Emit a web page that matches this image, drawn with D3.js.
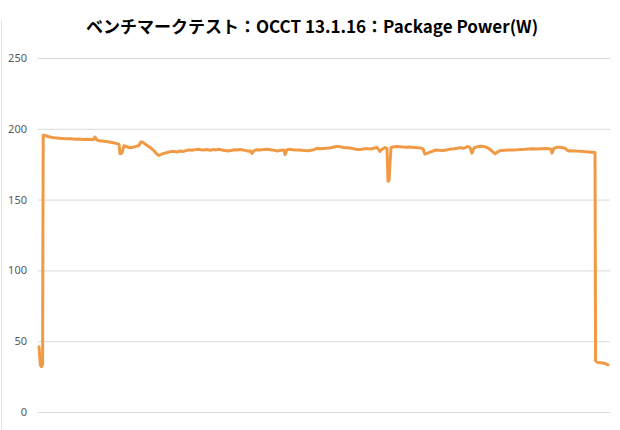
<!DOCTYPE html>
<html lang="ja">
<head>
<meta charset="UTF-8">
<title>OCCT Package Power</title>
<script src="https://d3js.org/d3.v7.min.js"></script>
<style>
  body { margin: 0; background: #fff; }
  svg { display: block; }
  .title { font-family: "Noto Sans CJK JP", sans-serif; font-weight: bold; font-size: 17px; fill: #000; }
  .tick text { font-family: "Noto Sans", sans-serif; font-size: 11px; fill: #595959; }
</style>
</head>
<body>
<svg width="620" height="430"></svg>
<script>
  // 経過時間(任意単位)と Package Power(W)
  const times = [
    1, 1.6, 2.4, 3.4, 4.6, 5.2, 7, 10, 13, 17, 21, 25, 29, 33, 37, 41, 45, 49, 53, 55, 57, 59,
    62, 66, 70, 74, 78, 81, 82, 84, 86, 89, 92, 95, 98, 101, 103, 105, 107, 110, 113, 116, 119, 121,
    124, 127, 130, 133, 136, 139, 142, 145, 148, 151, 154, 157, 160, 163, 166, 169, 172, 175, 178,
    181, 184, 187, 190, 193, 196, 199, 202, 205, 208, 210, 212, 214, 216, 219, 222, 225, 228, 231,
    234, 237, 240, 243, 246, 247, 249, 252, 255, 258, 261, 264, 267, 270, 273, 276, 279, 282, 285,
    288, 291, 294, 297, 300, 303, 306, 309, 312, 315, 318, 321, 324, 327, 330, 333, 336, 339, 341,
    342, 344, 347, 349, 350, 351, 352, 353, 356, 359, 362, 365, 368, 371, 374, 377, 380, 383, 385,
    387, 389, 392, 395, 398, 401, 404, 407, 410, 413, 416, 419, 422, 425, 428, 430, 432, 434, 436,
    439, 442, 445, 448, 451, 454, 457, 460, 463, 467, 471, 475, 479, 483, 487, 491, 495, 499, 503,
    507, 511, 513, 514, 516, 519, 522, 525, 527, 529, 531, 534, 538, 542, 546, 550, 554, 557, 557.6,
    560, 563, 566, 568, 570
  ];
  const power = [
    46, 40, 33, 32, 33.5, 195.5, 195.3, 194.6, 194.0, 193.6, 193.4, 193.1, 193.0, 192.9, 192.7, 192.8,
    192.5, 192.6, 192.4, 192.2, 194.2, 192.0,
    191.6, 191.2, 190.8, 190.3, 189.7, 189.2, 182.3, 183.0, 188.0, 187.3, 186.6, 187.0, 187.6, 188.2,
    190.8, 190.4, 189.3, 187.8, 186.4, 184.5, 182.0, 181.2,
    182.2, 182.8, 183.4, 183.9, 184.0, 183.6, 184.3, 184.0, 184.6, 185.1, 184.8, 185.3, 185.6, 185.2,
    185.0, 185.4, 184.9, 185.3, 185.1,
    185.5, 185.0, 184.7, 184.4, 184.6, 185.2, 185.0, 185.4, 185.1, 184.6, 184.2, 184.5, 182.6, 184.6,
    185.2, 185.0, 185.3, 185.6,
    185.4, 185.1, 184.7, 184.4, 184.9, 185.0, 181.8, 185.2, 185.5, 185.2, 185.0, 185.1, 184.8, 184.6,
    184.5, 184.8, 185.3, 186.2, 185.9,
    186.1, 186.2, 186.4, 186.8, 187.3, 187.6, 187.2, 186.8, 186.6, 186.4, 186.0, 185.6, 185.3, 185.5,
    185.9, 186.0, 185.8, 186.3, 186.9, 185.0,
    184.0, 185.5, 186.8, 186.0, 163.0, 163.5, 175.0, 186.8, 187.3, 187.5, 187.4, 187.2, 187.0, 187.1,
    186.9, 186.8, 186.6, 186.4, 185.8,
    182.1, 182.6, 183.5, 184.3, 185.0, 184.9, 184.7, 184.9, 185.3, 185.7, 185.9, 186.2, 186.7, 186.3,
    186.9, 187.5, 186.8, 182.8, 186.5,
    187.3, 187.6, 187.5, 187.1, 186.0, 184.3, 182.4, 183.8, 184.7, 184.9, 185.0, 185.1, 185.2, 185.4,
    185.5, 185.7, 185.9, 185.8, 185.9,
    186.0, 185.9, 185.6, 182.8, 186.2, 187.0, 186.9, 186.6, 186.3, 185.0, 184.4, 184.5, 184.3, 184.2,
    183.9, 183.7, 183.5, 183.2, 36.0,
    35.0, 34.8, 34.4, 34.0, 33.3
  ];
  const yTicks = [0, 50, 100, 150, 200, 250];
  const titleText = "ベンチマークテスト：OCCT 13.1.16：Package Power(W)";

  const width = 620;
  const height = 430;
  const margin = { top: 58, right: 10, bottom: 18, left: 38 };

  const svg = d3.select("svg");

  const x = d3.scaleLinear()
    .domain([0, 572])
    .range([margin.left, width - margin.right]);

  const y = d3.scaleLinear()
    .domain([0, 250])
    .range([height - margin.bottom, margin.top]);

  // 外枠(左端の細線)
  svg.append("line")
    .attr("x1", 1.5).attr("x2", 1.5)
    .attr("y1", 20).attr("y2", height)
    .attr("stroke", "#e4e4e4");

  svg.append("text")
    .attr("class", "title")
    .attr("x", width / 2 + 2)
    .attr("y", 33)
    .attr("text-anchor", "middle")
    .text(titleText);

  // y軸 + グリッド線
  const yAxis = d3.axisLeft(y)
    .tickValues(yTicks)
    .tickSize(-(width - margin.left - margin.right))
    .tickPadding(11);

  svg.append("g")
    .attr("transform", `translate(${margin.left},0)`)
    .call(yAxis)
    .call(g => g.select(".domain").remove())
    .call(g => g.selectAll(".tick line").attr("stroke", "#d9d9d9"));

  const points = times.map((t, i) => ({ t, v: power[i] }));

  const line = d3.line()
    .x(d => x(d.t))
    .y(d => y(d.v));

  svg.append("path")
    .datum(points)
    .attr("fill", "none")
    .attr("stroke", "#F19A45")
    .attr("stroke-width", 3)
    .attr("stroke-linejoin", "round")
    .attr("stroke-linecap", "round")
    .attr("d", line);
</script>
</body>
</html>
